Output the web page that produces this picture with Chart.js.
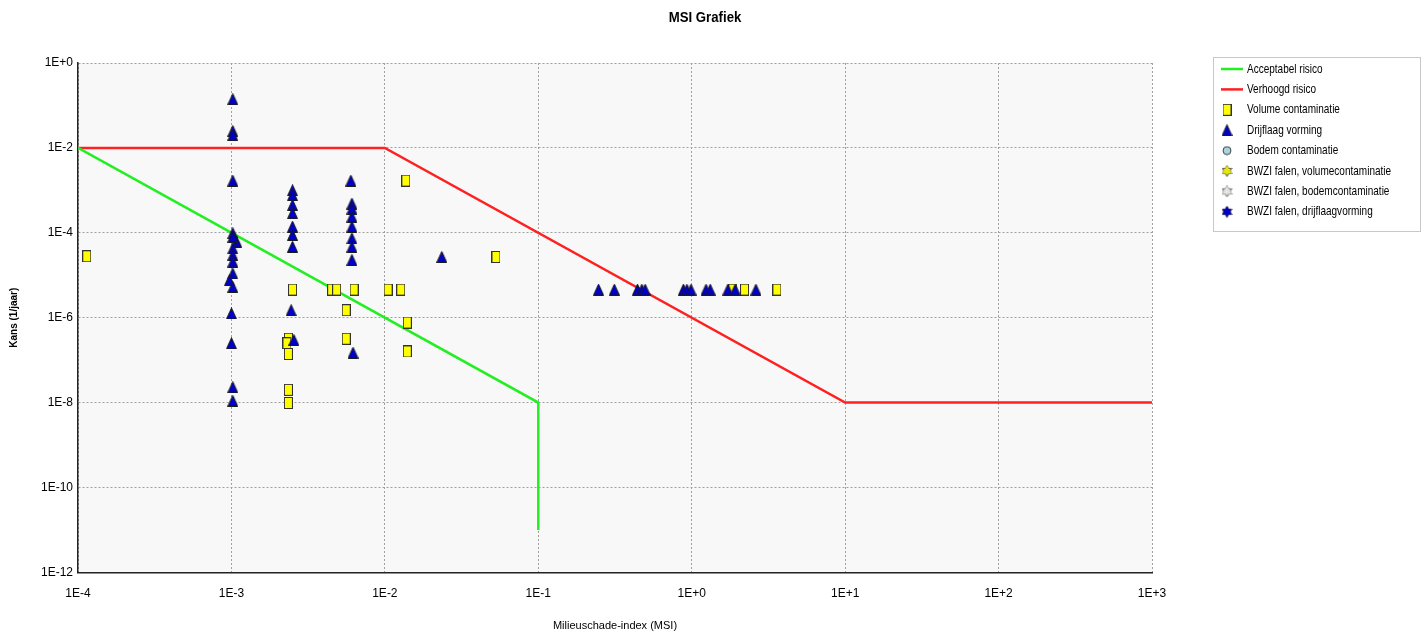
<!DOCTYPE html>
<html>
<head>
<meta charset="utf-8">
<script src="https://cdn.jsdelivr.net/npm/chart.js@4/dist/chart.umd.min.js"></script>
<style>
  html, body { margin: 0; padding: 0; background: #fff; }
</style>
</head>
<body>
<canvas id="chart" width="1426" height="635"></canvas>
<script>
// Risk boundaries (MSI, kans)
const acceptabelX = [1e-4, 1e-1, 1e-1];
const acceptabelY = [1e-2, 1e-8, 1e-11];
const verhoogdX = [1e-4, 1e-2, 1e1, 1e3];
const verhoogdY = [1e-2, 1e-2, 1e-8, 1e-8];

// Volume contaminatie (squares)
const volumeX = [1.14e-4, 2.5e-3, 2.35e-3, 2.3e-3, 2.35e-3, 2.35e-3, 2.35e-3, 4.5e-3, 4.85e-3, 6.3e-3,
  5.6e-3, 5.6e-3, 1.05e-2, 1.27e-2, 1.37e-2, 1.4e-2, 1.4e-2, 5.3e-2, 1.85, 2.21, 3.59];
const volumeY = [2.8e-5, 4.6e-6, 3.2e-7, 2.5e-7, 1.4e-7, 2.0e-8, 9.8e-9, 4.6e-6, 4.6e-6, 4.6e-6,
  1.5e-6, 3.2e-7, 4.6e-6, 4.6e-6, 1.7e-3, 7.7e-7, 1.6e-7, 2.7e-5, 4.6e-6, 4.6e-6, 4.6e-6];

// Drijflaag vorming (triangles)
const drijflaagX = [
  1.02e-3, 1.02e-3, 1.02e-3, 1.02e-3, 1.02e-3, 1.08e-3, 1.02e-3, 1.02e-3, 1.02e-3, 1.02e-3,
  1.02e-3, 0.97e-3, 1.02e-3, 1.0e-3, 1.0e-3, 1.02e-3, 1.02e-3,
  2.5e-3, 2.5e-3, 2.5e-3, 2.5e-3, 2.5e-3, 2.5e-3, 2.5e-3, 2.45e-3, 2.55e-3,
  6.0e-3, 6.1e-3, 6.1e-3, 6.1e-3, 6.1e-3, 6.1e-3, 6.1e-3, 6.1e-3, 6.2e-3,
  2.35e-2,
  0.247, 0.313, 0.443, 0.473, 0.497, 0.883, 0.93, 0.99, 1.24, 1.32, 1.72, 1.92, 2.62];
const drijflaagY = [
  0.14, 0.025, 0.020, 1.7e-3, 9.8e-5, 6.2e-5, 8.0e-5, 4.3e-5, 3.0e-5, 2.1e-5,
  1.1e-5, 7.6e-6, 5.3e-6, 1.26e-6, 2.5e-7, 2.3e-8, 1.1e-8,
  1.0e-3, 7.7e-4, 4.5e-4, 2.9e-4, 1.4e-4, 8.9e-5, 4.7e-5, 1.5e-6, 3.0e-7,
  1.7e-3, 4.9e-4, 3.7e-4, 2.4e-4, 1.4e-4, 7.4e-5, 4.7e-5, 2.3e-5, 1.5e-7,
  2.7e-5,
  4.6e-6, 4.6e-6, 4.6e-6, 4.6e-6, 4.6e-6, 4.6e-6, 4.6e-6, 4.6e-6, 4.6e-6, 4.6e-6, 4.6e-6, 4.6e-6, 4.6e-6];

// Series without points (legend only)
const bodemX = [], bodemY = [];
const bwziVolumeX = [], bwziVolumeY = [];
const bwziBodemX = [], bwziBodemY = [];
const bwziDrijflaagX = [], bwziDrijflaagY = [];

const xTickExp = [-4, -3, -2, -1, 0, 1, 2, 3];
const yTickExp = [0, -2, -4, -6, -8, -10, -12];

const FONT = "'Liberation Sans', Arial, sans-serif";

const pts = (xs, ys) => xs.map((x, i) => ({ x, y: ys[i] }));

function icon(w, h, draw) {
  const c = document.createElement('canvas');
  c.width = w; c.height = h;
  draw(c.getContext('2d'), w, h);
  return c;
}

const squareIcon = icon(9, 12, (g) => {
  g.fillStyle = '#ffff00'; g.strokeStyle = '#333';
  g.fillRect(0.5, 0.5, 8, 11); g.strokeRect(0.5, 0.5, 8, 11);
});
const triangleIcon = icon(11, 12, (g) => {
  g.beginPath(); g.moveTo(5.5, 0.5); g.lineTo(10.5, 11.5); g.lineTo(0.5, 11.5); g.closePath();
  g.fillStyle = '#0000c8'; g.fill(); g.strokeStyle = '#1a1a1a'; g.lineWidth = 1; g.stroke();
});
const circleIcon = icon(10, 10, (g) => {
  g.beginPath(); g.arc(5, 5, 4, 0, Math.PI * 2);
  g.fillStyle = '#a8d4dc'; g.fill(); g.strokeStyle = '#444'; g.stroke();
});
function starIcon(fill, stroke) {
  return icon(11, 12, (g) => {
    g.fillStyle = fill; g.strokeStyle = stroke; g.lineWidth = 1;
    [[5.5, 0.5, 10.2, 8.6, 0.8, 8.6], [5.5, 11.5, 10.2, 3.4, 0.8, 3.4]].forEach(t => {
      g.beginPath(); g.moveTo(t[0], t[1]); g.lineTo(t[2], t[3]); g.lineTo(t[4], t[5]); g.closePath();
      g.fill(); g.stroke();
    });
    g.beginPath(); g.moveTo(5.5, 0.5); g.lineTo(10.2, 8.6); g.lineTo(0.8, 8.6); g.closePath(); g.fill();
  });
}

const datasets = [
  { label: 'Acceptabel risico', data: pts(acceptabelX, acceptabelY), showLine: true,
    borderColor: '#22ee22', borderWidth: 2.5, pointRadius: 0, order: 10, legendType: 'line' },
  { label: 'Verhoogd risico', data: pts(verhoogdX, verhoogdY), showLine: true,
    borderColor: '#ff2020', borderWidth: 2.5, pointRadius: 0, order: 10, legendType: 'line' },
  { label: 'Volume contaminatie', data: pts(volumeX, volumeY), pointStyle: squareIcon, order: 1 },
  { label: 'Drijflaag vorming', data: pts(drijflaagX, drijflaagY), pointStyle: triangleIcon, order: 0 },
  { label: 'Bodem contaminatie', data: pts(bodemX, bodemY), pointStyle: circleIcon },
  { label: 'BWZI falen, volumecontaminatie', data: pts(bwziVolumeX, bwziVolumeY), pointStyle: starIcon('#e8e800', '#555') },
  { label: 'BWZI falen, bodemcontaminatie', data: pts(bwziBodemX, bwziBodemY), pointStyle: starIcon('#e4e4e4', '#666') },
  { label: 'BWZI falen, drijflaagvorming', data: pts(bwziDrijflaagX, bwziDrijflaagY), pointStyle: starIcon('#0000d0', '#222') }
];

const fmtExp = (v) => {
  const e = Math.round(Math.log10(v));
  return '1E' + (e >= 0 ? '+' : '') + e;
};

// plot background
const plotBg = {
  id: 'plotBg',
  beforeDraw(chart) {
    const { ctx, chartArea: a } = chart;
    ctx.save();
    ctx.fillStyle = '#f8f8f8';
    ctx.fillRect(a.left, a.top, a.right - a.left, a.bottom - a.top);
    ctx.restore();
  }
};

// title (centred on the whole page) and legend box on the right
const boxLegend = {
  id: 'boxLegend',
  afterDraw(chart) {
    const ctx = chart.ctx;
    ctx.save();
    ctx.fillStyle = '#000';
    ctx.textAlign = 'center';
    ctx.textBaseline = 'middle';
    ctx.font = 'bold 15px ' + FONT;
    ctx.save();
    ctx.translate(705, 18);
    ctx.scale(0.88, 1);
    ctx.fillText('MSI Grafiek', 0, 0);
    ctx.restore();

    const bx = 1213, by = 57, bw = 207, bh = 174;
    ctx.fillStyle = '#fff';
    ctx.fillRect(bx, by, bw, bh);
    ctx.strokeStyle = '#c8c8c8';
    ctx.lineWidth = 1;
    ctx.strokeRect(bx + 0.5, by + 0.5, bw, bh);
    ctx.font = '13px ' + FONT;
    ctx.textAlign = 'left';
    chart.data.datasets.forEach((ds, i) => {
      const y = by + 12 + i * 20.4;
      if (ds.legendType === 'line') {
        ctx.strokeStyle = ds.borderColor;
        ctx.lineWidth = 2.5;
        ctx.beginPath(); ctx.moveTo(1221, y); ctx.lineTo(1243, y); ctx.stroke();
      } else {
        const im = ds.pointStyle;
        ctx.drawImage(im, 1227 - im.width / 2, y - im.height / 2);
      }
      ctx.save();
      ctx.translate(1247, y);
      ctx.scale(0.77, 1);
      ctx.fillStyle = '#000';
      ctx.fillText(ds.label, 0, 0);
      ctx.restore();
    });
    ctx.restore();
  }
};

new Chart(document.getElementById('chart'), {
  type: 'scatter',
  data: { datasets },
  options: {
    responsive: false,
    animation: false,
    layout: { padding: { left: 0, right: 274, top: 63, bottom: 2 } },
    plugins: {
      legend: { display: false },
      tooltip: { enabled: false },
      title: { display: false }
    },
    scales: {
      x: {
        type: 'logarithmic', min: 1e-4, max: 1e3,
        afterBuildTicks: (axis) => { axis.ticks = xTickExp.map(e => ({ value: Math.pow(10, e) })); },
        ticks: { callback: fmtExp, autoSkip: false, maxRotation: 0, padding: 14, color: '#000',
          font: { family: FONT, size: 12 } },
        grid: { color: '#a0a0a0', drawTicks: false, lineWidth: 1 },
        border: { display: true, color: '#222', width: 1.5, dash: [2, 2] },
        title: { display: true, text: 'Milieuschade-index (MSI)', color: '#000',
          font: { family: FONT, size: 11 }, padding: { top: 5, bottom: 0 } }
      },
      y: {
        type: 'logarithmic', min: 1e-12, max: 1,
        afterBuildTicks: (axis) => { axis.ticks = yTickExp.map(e => ({ value: Math.pow(10, e) })); },
        ticks: { callback: fmtExp, autoSkip: false, padding: 5, color: '#000',
          font: { family: FONT, size: 12 } },
        grid: { color: '#a0a0a0', drawTicks: false, lineWidth: 1 },
        border: { display: true, color: '#222', width: 1.5, dash: [2, 2] },
        title: { display: true, text: 'Kans (1/jaar)', color: '#000',
          font: { family: FONT, size: 10, weight: 'bold' },
          padding: { top: 8, bottom: 16 } }
      }
    }
  },
  plugins: [plotBg, boxLegend]
});
</script>
</body>
</html>
